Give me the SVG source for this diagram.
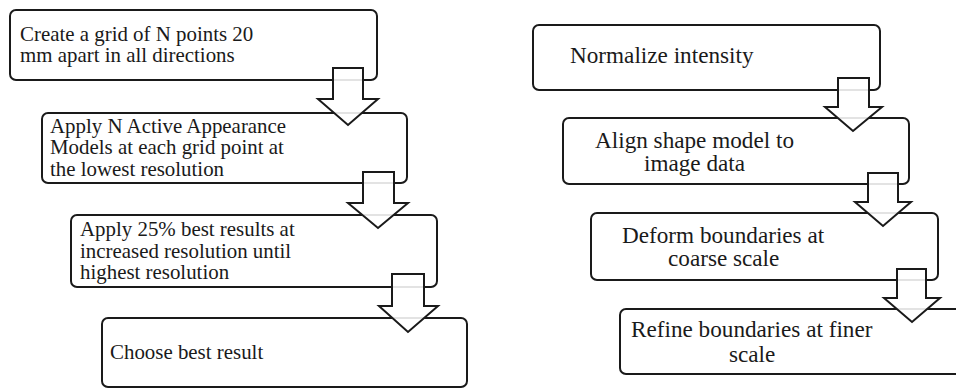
<svg xmlns="http://www.w3.org/2000/svg" width="956" height="388" viewBox="0 0 956 388">
<style>
.box{fill:#fff;stroke:#1a1a1a;stroke-width:2}
.t{font-family:'Liberation Serif','DejaVu Serif',serif;font-size:20.9px;fill:#1a1a1a}
.tr{font-family:'Liberation Serif','DejaVu Serif',serif;font-size:23.2px;fill:#1a1a1a}
.arr{fill:#fff;fill-opacity:0.88;stroke:#1a1a1a;stroke-width:2;stroke-linejoin:miter}
</style>
<rect width="956" height="388" fill="#fff"/>
<g id="n1"><rect class="box" x="10" y="10" width="367" height="70" rx="6"/>
<text class="t" x="20" y="40.5">Create a grid of N points 20</text>
<text class="t" x="20" y="62">mm apart in all directions</text></g>
<g id="n2"><rect class="box" x="42" y="113" width="365" height="70" rx="6"/>
<text class="t" x="50" y="132.5">Apply N Active Appearance</text>
<text class="t" x="50" y="154">Models at each grid point at</text>
<text class="t" x="50" y="175.5">the lowest resolution</text></g>
<g id="n3"><rect class="box" x="71" y="215" width="366" height="72" rx="6"/>
<text class="t" x="80" y="235.5">Apply 25% best results at</text>
<text class="t" x="80" y="257.5">increased resolution until</text>
<text class="t" x="80" y="279">highest resolution</text></g>
<g id="n4"><rect class="box" x="102" y="318" width="365" height="69" rx="6"/>
<text class="t" x="110" y="359">Choose best result</text></g>
<g id="r1"><rect class="box" x="533" y="25" width="347" height="65" rx="6"/>
<text class="tr" x="570" y="63">Normalize intensity</text></g>
<g id="r2"><rect class="box" x="563" y="118" width="346" height="66" rx="6"/>
<text class="tr" x="595" y="147.5">Align shape model to</text>
<text class="tr" x="644" y="170.5">image data</text></g>
<g id="r3"><rect class="box" x="591" y="213" width="347" height="67" rx="6"/>
<text class="tr" x="622" y="242.5">Deform boundaries at</text>
<text class="tr" x="668" y="266">coarse scale</text></g>
<g id="r4"><rect class="box" x="620" y="309" width="347" height="65" rx="6"/>
<text class="tr" x="631" y="336.5">Refine boundaries at finer</text>
<text class="tr" x="729" y="361.5">scale</text></g>
<g id="connectors">
<polygon class="arr" points="333,68 363,68 363,99 378,99 348,125 318,99 333,99"/>
<polygon class="arr" points="363,172 394,172 394,203 408,203 378,228 348,203 363,203"/>
<polygon class="arr" points="392,274 424,274 424,306 438,306 408,332 379,306 392,306"/>
<polygon class="arr" points="838,78 869,78 869,107 882,107 853,131 825,107 838,107"/>
<polygon class="arr" points="868,173 898,173 898,202 911,202 883,226 855,202 868,202"/>
<polygon class="arr" points="897,269 926,269 926,298 940,298 912,322 884,298 897,298"/>
</g>
</svg>
